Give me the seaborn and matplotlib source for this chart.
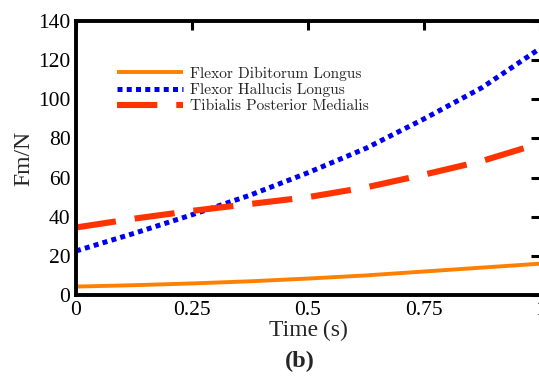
import matplotlib
matplotlib.use("Agg")
import matplotlib.pyplot as plt
import seaborn as sns
import pandas as pd

# Muscle force over one stance phase
time_s = [0.0, 0.125, 0.25, 0.375, 0.5, 0.625, 0.75, 0.875, 1.0]
fdl = [4.3, 5.0, 5.9, 7.0, 8.4, 10.0, 12.0, 14.0, 16.0]
fhl = [22.5, 31.5, 41.0, 51.0, 62.5, 75.0, 90.0, 106.0, 126.0]
tpm = [34.5, 39.0, 43.0, 46.5, 50.0, 55.0, 61.5, 68.5, 77.5]

series_names = ["Flexor Dibitorum Longus", "Flexor Hallucis Longus",
                "Tibialis Posterior Medialis"]
x_ticks = [0, 0.25, 0.5, 0.75, 1.0]
x_tick_labels = ["0", "0.25", "0.5", "0.75", "1"]
y_ticks = [0, 20, 40, 60, 80, 100, 120, 140]

sns.set_theme(style="white")
plt.rcParams["font.family"] = ["Liberation Serif", "DejaVu Serif"]

fig = plt.figure(figsize=(5.39, 3.78), dpi=100)
ax = fig.add_axes([0.141, 0.2196, 0.861, 0.7248])

df = pd.DataFrame({"t": time_s, series_names[0]: fdl,
                   series_names[1]: fhl, series_names[2]: tpm})

styles = [
    dict(color="#FF8000", lw=2.8, solid_capstyle="butt"),
    dict(color="#0000F0", lw=3.6, dashes=(1.0, 0.85), dash_capstyle="butt"),
    dict(color="#FF3300", lw=4.4, dashes=(6.6, 3.1), dash_capstyle="butt"),
]
for name, st in zip(series_names, styles):
    st = dict(st)
    dashes = st.pop("dashes", None)
    line_ax = sns.lineplot(data=df, x="t", y=name, ax=ax, label=name, **st)
    if dashes is not None:
        line_ax.get_lines()[-1].set_dashes(dashes)

ax.set_xlim(0, 1)
ax.set_ylim(0, 140)
ax.set_xticks(x_ticks)
ax.set_xticklabels(x_tick_labels)
ax.set_yticks(y_ticks)
ax.tick_params(axis="both", which="major", direction="in", length=6.5,
               width=2.2, labelsize=15.5, top=True, right=True,
               colors="black", pad=4)
for sp in ax.spines.values():
    sp.set_linewidth(2.8)
    sp.set_color("black")

ax.set_xlabel("Time\u2009(s)", fontsize=17, labelpad=0)
ax.set_ylabel("Fm/N", fontsize=17, labelpad=3)

leg = ax.legend(loc="upper left", bbox_to_anchor=(0.058, 0.885),
                frameon=False, handlelength=4.3,
                handletextpad=0.45, labelspacing=0.15,
                prop={"family": "cmr10", "size": 11.1})

fig.text(0.556, 0.016, "(b)", fontsize=17.5, fontweight="bold",
         ha="center", va="bottom")

fig.savefig("out.png", dpi=100)
